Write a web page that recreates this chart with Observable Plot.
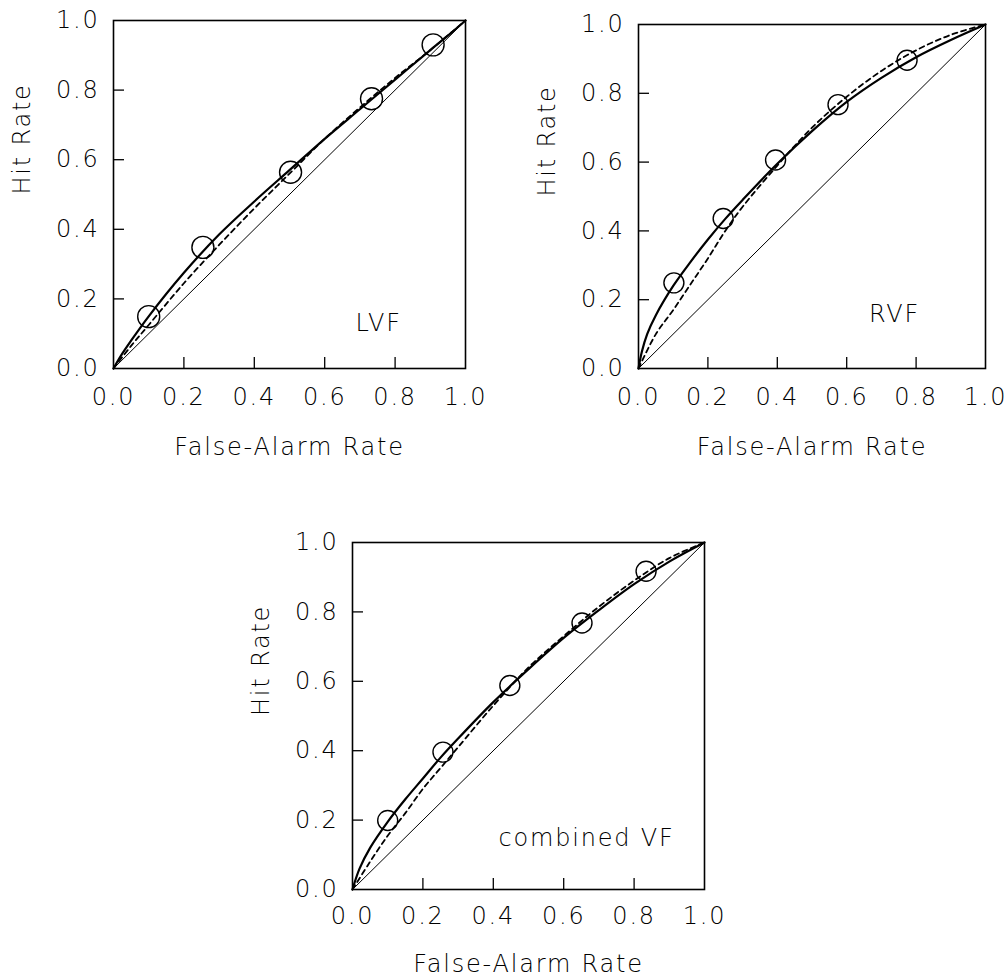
<!DOCTYPE html>
<html>
<head>
<meta charset="utf-8">
<script src="https://cdn.jsdelivr.net/npm/d3@7"></script>
<script src="https://cdn.jsdelivr.net/npm/@observablehq/plot@0.6"></script>
<style>
  html, body { margin: 0; padding: 0; background: #fff; }
  #chart { position: relative; width: 1006px; height: 979px; overflow: hidden; }
  #chart svg { position: absolute; overflow: visible; }
</style>
</head>
<body>
<div id="chart"></div>
<script>
// ---- data ----
const ticks = [0, 0.2, 0.4, 0.6, 0.8, 1.0];
const innerTicks = [0.2, 0.4, 0.6, 0.8];
const diagonal = [{x: 0, y: 0}, {x: 1, y: 1}];

// LVF
const lvfPoints = [
  {x: 0.100, y: 0.149}, {x: 0.254, y: 0.348}, {x: 0.503, y: 0.564},
  {x: 0.733, y: 0.775}, {x: 0.908, y: 0.930}
];
const lvfSolid = [
  {x: 0, y: 0}, {x: 0.02, y: 0.035}, {x: 0.05, y: 0.08}, {x: 0.1, y: 0.15},
  {x: 0.2, y: 0.275}, {x: 0.3, y: 0.385}, {x: 0.4, y: 0.48}, {x: 0.5, y: 0.57},
  {x: 0.6, y: 0.66}, {x: 0.7, y: 0.745}, {x: 0.8, y: 0.83}, {x: 0.9, y: 0.915},
  {x: 0.96, y: 0.965}, {x: 1, y: 1}
];
const lvfDashed = [
  {x: 0, y: 0}, {x: 0.05, y: 0.065}, {x: 0.1, y: 0.125}, {x: 0.2, y: 0.245},
  {x: 0.3, y: 0.355}, {x: 0.4, y: 0.46}, {x: 0.5, y: 0.56}, {x: 0.6, y: 0.66},
  {x: 0.7, y: 0.75}, {x: 0.8, y: 0.835}, {x: 0.9, y: 0.915}, {x: 1, y: 1}
];

// RVF
const rvfPoints = [
  {x: 0.102, y: 0.249}, {x: 0.244, y: 0.436}, {x: 0.395, y: 0.606},
  {x: 0.575, y: 0.767}, {x: 0.774, y: 0.896}
];
const rvfSolid = [
  {x: 0, y: 0}, {x: 0.01, y: 0.05}, {x: 0.025, y: 0.10}, {x: 0.05, y: 0.155},
  {x: 0.1, y: 0.24}, {x: 0.15, y: 0.31}, {x: 0.2, y: 0.375}, {x: 0.25, y: 0.435},
  {x: 0.3, y: 0.49}, {x: 0.4, y: 0.595}, {x: 0.5, y: 0.69}, {x: 0.6, y: 0.775},
  {x: 0.7, y: 0.845}, {x: 0.8, y: 0.905}, {x: 0.9, y: 0.955}, {x: 1, y: 1}
];
const rvfDashed = [
  {x: 0, y: 0}, {x: 0.05, y: 0.10}, {x: 0.1, y: 0.17}, {x: 0.15, y: 0.245},
  {x: 0.2, y: 0.32}, {x: 0.25, y: 0.40}, {x: 0.3, y: 0.47}, {x: 0.4, y: 0.59},
  {x: 0.5, y: 0.70}, {x: 0.6, y: 0.79}, {x: 0.7, y: 0.865}, {x: 0.8, y: 0.925},
  {x: 0.9, y: 0.97}, {x: 1, y: 1}
];

// combined VF
const combPoints = [
  {x: 0.100, y: 0.199}, {x: 0.257, y: 0.396}, {x: 0.447, y: 0.588},
  {x: 0.652, y: 0.768}, {x: 0.834, y: 0.917}
];
const combSolid = [
  {x: 0, y: 0}, {x: 0.02, y: 0.06}, {x: 0.05, y: 0.12}, {x: 0.1, y: 0.195},
  {x: 0.15, y: 0.26}, {x: 0.2, y: 0.32}, {x: 0.25, y: 0.38}, {x: 0.3, y: 0.435},
  {x: 0.4, y: 0.54}, {x: 0.5, y: 0.635}, {x: 0.6, y: 0.725}, {x: 0.7, y: 0.805},
  {x: 0.8, y: 0.88}, {x: 0.9, y: 0.945}, {x: 1, y: 1}
];
const combDashed = [
  {x: 0, y: 0}, {x: 0.05, y: 0.08}, {x: 0.1, y: 0.155}, {x: 0.15, y: 0.22},
  {x: 0.2, y: 0.29}, {x: 0.25, y: 0.35}, {x: 0.3, y: 0.41}, {x: 0.4, y: 0.53},
  {x: 0.5, y: 0.64}, {x: 0.6, y: 0.73}, {x: 0.7, y: 0.815}, {x: 0.8, y: 0.89},
  {x: 0.9, y: 0.955}, {x: 1, y: 1}
];

const panelLabels = [
  [{x: 0.753, y: 0.129, text: "LVF"}],
  [{x: 0.738, y: 0.157, text: "RVF"}],
  [{x: 0.665, y: 0.148, text: "combined VF"}]
];
const xLabel = "False-Alarm Rate";
const yLabel = "Hit Rate";

// ---- drawing ----
const FS = 24;
const FW = 200;
const STYLE = "font-family:'DejaVu Sans',sans-serif;font-size:24px;color:#000;background:transparent;overflow:visible;letter-spacing:1.8px;";

function panel({solid, dashed, points, label, r, left, top, width, height, mL, mR, mT, mB, tickDy, labelDy}) {
  const plotW = width - mL - mR;
  const plotH = height - mT - mB;
  const txt = {fontSize: FS, fontWeight: FW, fill: "#000"};
  const svg = Plot.plot({
    width, height,
    marginLeft: mL, marginRight: mR, marginTop: mT, marginBottom: mB,
    x: {domain: [0, 1], axis: null},
    y: {domain: [0, 1], axis: null},
    style: STYLE,
    marks: [
      Plot.line(diagonal, {x: "x", y: "y", stroke: "#000", strokeWidth: 1}),
      Plot.line(dashed, {x: "x", y: "y", stroke: "#000", strokeWidth: 1.8, strokeDasharray: "5,4", curve: "catmull-rom"}),
      Plot.line(solid, {x: "x", y: "y", stroke: "#000", strokeWidth: 2.2, curve: "catmull-rom"}),
      Plot.dot(points, {x: "x", y: "y", r, stroke: "#000", strokeWidth: 1.4, fill: "none"}),
      Plot.tickX(innerTicks, {x: d => d, stroke: "#000", strokeWidth: 1.3, insetTop: plotH - 11}),
      Plot.tickY(innerTicks, {y: d => d, stroke: "#000", strokeWidth: 1.3, insetRight: plotW - 11}),
      Plot.frame({stroke: "#000", strokeWidth: 1.6}),
      Plot.text(ticks, {x: d => d, frameAnchor: "bottom", lineAnchor: "middle", dy: tickDy, text: d => d.toFixed(1), ...txt}),
      Plot.text(ticks, {y: d => d, frameAnchor: "left", lineAnchor: "middle", dx: -14, textAnchor: "end", text: d => d.toFixed(1), ...txt}),
      Plot.text([xLabel], {frameAnchor: "bottom", lineAnchor: "middle", dy: labelDy, text: d => d, ...txt}),
      Plot.text([yLabel], {frameAnchor: "left", lineAnchor: "middle", dx: -91, rotate: -90, text: d => d, ...txt}),
      Plot.text(label, {x: "x", y: "y", text: "text", ...txt})
    ]
  });
  svg.style.left = left + "px";
  svg.style.top = top + "px";
  svg.style.position = "absolute";
  document.getElementById("chart").appendChild(svg);
}

panel({solid: lvfSolid, dashed: lvfDashed, points: lvfPoints, label: panelLabels[0], r: 11,
  left: 0, top: 0, width: 500, height: 480, mL: 113, mR: 35, mT: 20, mB: 112, tickDy: 29, labelDy: 79});
panel({solid: rvfSolid, dashed: rvfDashed, points: rvfPoints, label: panelLabels[1], r: 10,
  left: 500, top: 0, width: 506, height: 480, mL: 138, mR: 21, mT: 24, mB: 112, tickDy: 29, labelDy: 79});
panel({solid: combSolid, dashed: combDashed, points: combPoints, label: panelLabels[2], r: 10,
  left: 250, top: 500, width: 500, height: 479, mL: 102, mR: 46, mT: 42, mB: 90, tickDy: 27, labelDy: 75});
</script>
</body>
</html>
